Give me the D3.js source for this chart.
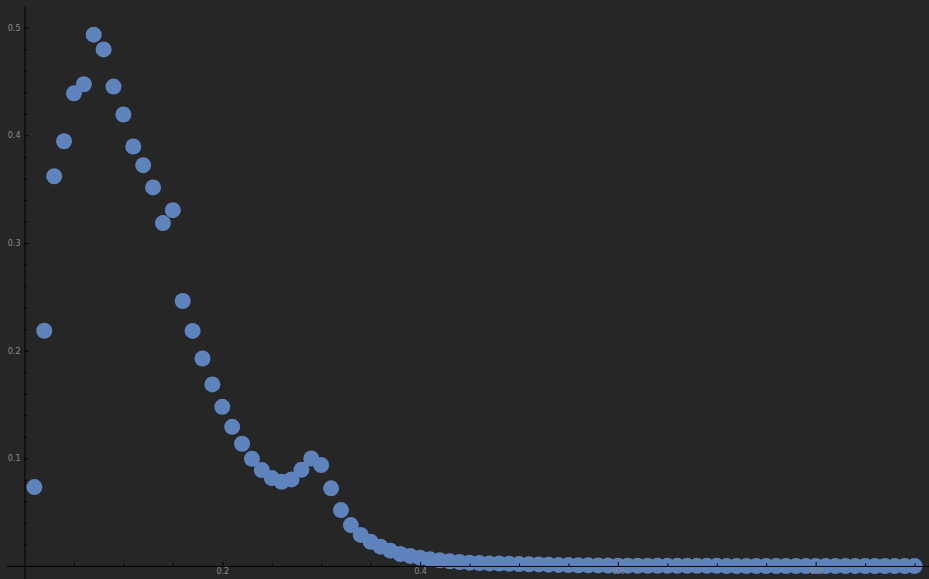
<!DOCTYPE html>
<html>
<head>
<meta charset="utf-8">
<script src="https://cdn.jsdelivr.net/npm/d3@7"></script>
<style>
	html, body { margin: 0; padding: 0; background: #262626; }
	svg { display: block; }
	.axis text { fill: #8c8c8c; font-family: "DejaVu Sans", sans-serif; font-size: 8px; }
	.axis path, .axis line { stroke: #000; }
</style>
</head>
<body>
<svg width="929" height="579"></svg>
<script>
const xValues = [
	0.01, 0.02, 0.03, 0.04, 0.05, 0.06, 0.07, 0.08, 0.09, 0.10,
	0.11, 0.12, 0.13, 0.14, 0.15, 0.16, 0.17, 0.18, 0.19, 0.20,
	0.21, 0.22, 0.23, 0.24, 0.25, 0.26, 0.27, 0.28, 0.29, 0.30,
	0.31, 0.32, 0.33, 0.34, 0.35, 0.36, 0.37, 0.38, 0.39, 0.40,
	0.41, 0.42, 0.43, 0.44, 0.45, 0.46, 0.47, 0.48, 0.49, 0.50,
	0.51, 0.52, 0.53, 0.54, 0.55, 0.56, 0.57, 0.58, 0.59, 0.60,
	0.61, 0.62, 0.63, 0.64, 0.65, 0.66, 0.67, 0.68, 0.69, 0.70,
	0.71, 0.72, 0.73, 0.74, 0.75, 0.76, 0.77, 0.78, 0.79, 0.80,
	0.81, 0.82, 0.83, 0.84, 0.85, 0.86, 0.87, 0.88, 0.89, 0.90
]
const yValues = [
	0.0733, 0.2185, 0.3620, 0.3945, 0.4390, 0.4474, 0.4935, 0.4798, 0.4453, 0.4193,
	0.3896, 0.3723, 0.3516, 0.3185, 0.3305, 0.2461, 0.2183, 0.1927, 0.1686, 0.1478,
	0.1292, 0.1135, 0.0995, 0.0891, 0.0816, 0.0782, 0.0804, 0.0893, 0.0998, 0.0937,
	0.0721, 0.0519, 0.0380, 0.0288, 0.0225, 0.0179, 0.0142, 0.0111, 0.0093, 0.0077,
	0.0062, 0.0053, 0.0044, 0.0037, 0.0031, 0.0027, 0.0024, 0.0022, 0.0020, 0.0018,
	0.0016, 0.0014, 0.0012, 0.0010, 0.0008, 0.0007, 0.0006, 0.0005, 0.0004, 0.0003,
	0.0003, 0.0002, 0.0002, 0.0002, 0.0001, 0.0001, 0.0001, 0.0001, 0.0001, 0.0001,
	0.0000, 0.0000, 0.0000, 0.0000, 0.0000, 0.0000, 0.0000, 0.0000, 0.0000, 0.0000,
	0.0000, 0.0000, 0.0000, 0.0000, 0.0000, 0.0000, 0.0000, 0.0000, 0.0000, 0.0000
]
const xMajorTicks = [0.2, 0.4, 0.6, 0.8]
const xMinorTicks = [0.05, 0.1, 0.15, 0.25, 0.3, 0.35, 0.45, 0.5, 0.55, 0.65, 0.7, 0.75, 0.85, 0.9]
const yMajorTicks = [0.1, 0.2, 0.3, 0.4, 0.5]
const yMinorTicks = [0.02, 0.04, 0.06, 0.08, 0.12, 0.14, 0.16, 0.18, 0.22, 0.24, 0.26, 0.28,
	0.32, 0.34, 0.36, 0.38, 0.42, 0.44, 0.46, 0.48]

const width = 929
const height = 579
const svg = d3.select("svg")

const x = d3.scaleLinear().domain([-0.0187, 0.9146]).range([6, width])
const y = d3.scaleLinear().domain([-0.0121, 0.5201]).range([height, 6])

const data = xValues.map((v, i) => ({ x: v, y: yValues[i] }))

// points first, axes are drawn over them
svg.append("g")
	.selectAll("circle")
	.data(data)
	.join("circle")
	.attr("cx", d => x(d.x))
	.attr("cy", d => y(d.y))
	.attr("r", 8)
	.attr("fill", "#5f83bd")

const fmt = d3.format(".1f")

// x axis
svg.append("g")
	.attr("class", "axis axis--x")
	.attr("transform", "translate(0," + y(0) + ")")
	.call(d3.axisBottom(x).tickValues(xMajorTicks).tickFormat(fmt).tickSizeInner(-4).tickSizeOuter(0).tickPadding(4))
	.call(g => g.selectAll("text").attr("dy", "0.55em"))
svg.append("g")
	.attr("class", "axis axis--x-minor")
	.attr("transform", "translate(0," + y(0) + ")")
	.call(d3.axisBottom(x).tickValues(xMinorTicks).tickFormat("").tickSizeInner(-2.5).tickSizeOuter(0))
	.call(g => g.select(".domain").remove())
	.selectAll("line").attr("stroke", "#000")

// y axis
svg.append("g")
	.attr("class", "axis axis--y")
	.attr("transform", "translate(" + x(0) + ",0)")
	.call(d3.axisLeft(y).tickValues(yMajorTicks).tickFormat(fmt).tickSizeInner(-4).tickSizeOuter(0).tickPadding(4))
svg.append("g")
	.attr("class", "axis axis--y-minor")
	.attr("transform", "translate(" + x(0) + ",0)")
	.call(d3.axisLeft(y).tickValues(yMinorTicks).tickFormat("").tickSizeInner(-2.5).tickSizeOuter(0))
	.call(g => g.select(".domain").remove())
	.selectAll("line").attr("stroke", "#000")
</script>
</body>
</html>
